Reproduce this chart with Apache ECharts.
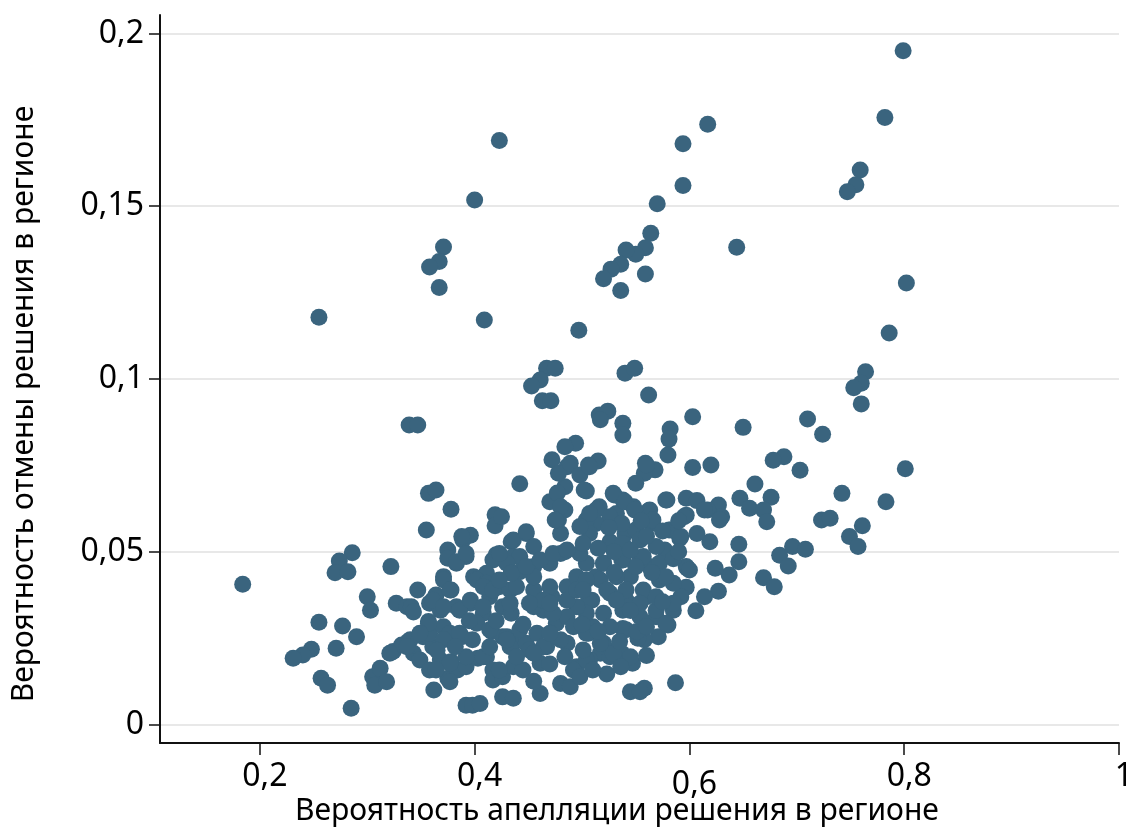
<!DOCTYPE html>
<html>
<head>
<meta charset="utf-8">
<script src="https://cdn.jsdelivr.net/npm/echarts@6/dist/echarts.min.js"></script>
<style>html,body{margin:0;padding:0;background:#fff}#c{width:1126px;height:827px}</style>
</head>
<body>
<div id="c"></div>
<script>
// Вероятность апелляции решения в регионе (x)
const appealRate = [
0.799,0.782,0.759,0.755,0.747,0.802,0.786,0.764,0.760,0.753,0.760,0.801,0.783,0.742,
0.617,0.594,0.594,0.570,0.564,0.559,0.550,0.541,0.536,0.527,0.520,0.559,0.644,0.536,0.497,0.540,0.549,0.562,
0.423,0.400,0.371,0.367,0.358,0.367,0.255,0.409,0.467,0.475,0.461,0.453,0.463,0.471,0.339,0.347,
0.516,0.524,0.538,0.538,0.603,0.582,0.581,0.580,0.650,0.710,0.724,0.703,0.688,0.678,0.603,0.620,
0.494,0.484,0.515,0.506,0.559,0.568,0.558,0.550,0.504,0.484,0.486,0.530,0.538,0.516,0.579,0.597,
0.607,0.627,0.617,0.647,0.661,0.676,0.656,0.669,0.562,0.597,0.630,0.723,0.731,0.761,0.484,0.672,
0.749,0.757,0.646,0.646,0.696,0.708,0.684,0.692,0.669,0.679,0.637,0.624,0.627,0.614,0.598,0.597,
0.606,0.587,0.558,0.545,0.554,0.523,0.547,0.580,0.571,0.558,0.552,0.541,0.520,0.531,0.517,0.569,
0.585,0.592,0.581,0.614,0.619,0.628,0.607,0.591,0.565,0.577,0.572,0.563,0.554,0.545,0.538,0.540,
0.526,0.520,0.513,0.526,0.541,0.560,0.509,0.510,0.520,0.526,0.537,0.538,0.551,0.507,0.532,0.513,0.548,
0.184,0.286,0.274,0.270,0.282,0.322,0.300,0.303,0.327,0.337,0.255,0.277,0.290,0.271,0.248,0.240,
0.231,0.257,0.263,0.285,0.305,0.312,0.307,0.318,0.324,0.332,0.338,
0.472,0.478,0.442,0.357,0.364,0.378,0.419,0.470,0.477,0.355,0.419,0.375,0.389,0.396,0.375,0.392,
0.383,0.371,0.399,0.420,0.417,0.434,0.436,0.411,
0.517,0.489,0.498,0.507,0.502,0.478,0.480,0.484,0.560,0.578,0.595,0.583,0.592,0.597,0.563,0.566,
0.529,0.540,0.549,0.526,0.550,0.537,0.513,0.504,0.507,0.526,0.538,0.554,0.569,0.557,0.572,0.550,
0.537,0.520,0.504,0.498,0.480,0.470,0.448,0.436,0.455,0.442,0.430,0.455,0.425,
0.341,0.347,0.343,0.358,0.364,0.371,0.378,0.368,0.357,0.352,0.340,0.343,0.349,0.361,0.358,0.371,
0.383,0.388,0.377,0.396,0.402,0.411,0.414,0.408,0.402,0.416,0.426,0.436,0.426,0.434,0.423,0.433,
0.358,0.362,0.368,0.378,0.375,0.384,0.392,0.403,0.411,0.417,0.417,0.426,0.436,0.392,0.398,0.405,
0.426,0.436,0.321,
0.600,0.585,0.578,0.506,0.504,0.506,0.529,0.545,0.495,0.480,0.489,0.461,0.461,0.445,0.464,0.476,
0.486,0.467,0.448,0.433,0.430,0.442,0.458,0.472,0.486,0.455,0.439,0.433,0.455,0.495,0.517,0.532,
0.557,0.569,0.554,0.538,0.495,0.486,0.470,0.442,
// core of the cloud
0.388,0.383,0.392,0.377,0.361,0.371,0.357,0.386,0.396,0.423,0.448,0.434,0.448,0.461,0.473,0.486,
0.501,0.476,0.480,0.507,0.498,0.408,0.417,0.423,0.408,0.414,0.430,0.455,0.464,0.473,0.486,0.495,
0.504,0.492,0.504,0.480,0.464,0.451,0.439,0.423,0.408,0.392,0.377,0.364,0.337,0.349,0.371,0.386,
0.398,0.414,0.377,0.492,0.504,
0.451,0.470,0.501,0.523,0.541,0.532,0.526,0.517,0.501,0.484,0.470,0.455,0.498,0.510,0.536,0.560,
0.554,0.569,0.585,0.578,0.475,
0.530,0.545,0.560,0.575,0.590,0.585,0.565,0.530,0.515,0.525,0.555,0.590,
0.365,0.382,0.395,0.420,0.445,0.470,0.455,0.515,0.535,0.560,0.500,0.545,0.575
];
// Вероятность отмены решения в регионе (y)
const reversalRate = [
0.1950,0.1757,0.1605,0.1562,0.1542,0.1278,0.1133,0.1021,0.0988,0.0975,0.0928,0.0740,0.0645,0.0669,
0.1737,0.1681,0.1560,0.1507,0.1422,0.1380,0.1361,0.1373,0.1332,0.1318,0.1290,0.1304,0.1381,0.1256,0.1141,0.1017,0.1031,0.0954,
0.1690,0.1518,0.1382,0.1340,0.1324,0.1265,0.1179,0.1171,0.1031,0.1031,0.0997,0.0980,0.0937,0.0937,0.0867,0.0867,
0.0896,0.0907,0.0872,0.0838,0.0891,0.0855,0.0826,0.0780,0.0860,0.0884,0.0840,0.0736,0.0775,0.0765,0.0744,0.0751,
0.0814,0.0804,0.0763,0.0751,0.0756,0.0737,0.0727,0.0698,0.0676,0.0688,0.0746,0.0664,0.0650,0.0630,0.0650,0.0655,
0.0648,0.0635,0.0621,0.0655,0.0696,0.0658,0.0626,0.0621,0.0619,0.0606,0.0601,0.0592,0.0597,0.0575,0.0621,0.0587,
0.0544,0.0515,0.0522,0.0471,0.0515,0.0507,0.0490,0.0459,0.0425,0.0399,0.0433,0.0452,0.0386,0.0370,0.0452,0.0397,
0.0329,0.0121,0.0105,0.0095,0.0095,0.0146,0.0177,0.0288,0.0254,0.0245,0.0250,0.0274,0.0322,0.0211,0.0206,0.0312,
0.0331,0.0370,0.0563,0.0621,0.0529,0.0592,0.0553,0.0539,0.0582,0.0505,0.0418,0.0457,0.0481,0.0428,0.0476,0.0553,
0.0529,0.0467,0.0428,0.0380,0.0360,0.0370,0.0360,0.0283,0.0235,0.0196,0.0206,0.0278,0.0269,0.0187,0.0611,0.0621,0.0630,
0.0406,0.0497,0.0473,0.0439,0.0442,0.0457,0.0370,0.0331,0.0351,0.0341,0.0296,0.0285,0.0254,0.0221,0.0218,0.0201,
0.0192,0.0134,0.0114,0.0047,0.0138,0.0163,0.0114,0.0124,0.0211,0.0230,0.0240,
0.0766,0.0727,0.0697,0.0669,0.0679,0.0623,0.0607,0.0645,0.0670,0.0563,0.0575,0.0505,0.0534,0.0548,0.0481,0.0486,
0.0467,0.0428,0.0428,0.0491,0.0476,0.0529,0.0486,0.0438,
0.0882,0.0756,0.0722,0.0746,0.0679,0.0592,0.0553,0.0500,0.0751,0.0650,0.0601,0.0563,0.0544,0.0457,0.0621,0.0592,
0.0669,0.0645,0.0621,0.0601,0.0563,0.0582,0.0582,0.0592,0.0553,0.0524,0.0524,0.0534,0.0515,0.0486,0.0467,0.0457,
0.0476,0.0467,0.0467,0.0495,0.0495,0.0467,0.0553,0.0534,0.0515,0.0486,0.0467,0.0457,0.0601,
0.0341,0.0389,0.0326,0.0351,0.0375,0.0418,0.0389,0.0331,0.0298,0.0254,0.0245,0.0206,0.0187,0.0225,0.0264,0.0283,
0.0341,0.0254,0.0264,0.0351,0.0418,0.0409,0.0370,0.0322,0.0293,0.0269,0.0254,0.0235,0.0341,0.0322,0.0399,0.0389,
0.0158,0.0100,0.0187,0.0182,0.0134,0.0158,0.0167,0.0192,0.0196,0.0158,0.0129,0.0138,0.0167,0.0056,0.0056,0.0061,
0.0080,0.0076,0.0206,
0.0447,0.0351,0.0293,0.0360,0.0322,0.0264,0.0206,0.0196,0.0167,0.0119,0.0109,0.0090,0.0177,0.0158,0.0331,0.0293,
0.0235,0.0225,0.0235,0.0225,0.0254,0.0274,0.0264,0.0370,0.0399,0.0389,0.0399,0.0351,0.0428,0.0428,0.0418,0.0428,
0.0389,0.0331,0.0312,0.0331,0.0341,0.0312,0.0399,0.0442,
// core of the cloud
0.0544,0.0471,0.0495,0.0389,0.0360,0.0341,0.0293,0.0331,0.0360,0.0495,0.0558,0.0438,0.0457,0.0476,0.0495,0.0505,
0.0524,0.0592,0.0630,0.0611,0.0573,0.0399,0.0389,0.0418,0.0341,0.0274,0.0245,0.0341,0.0360,0.0322,0.0360,0.0389,
0.0418,0.0283,0.0264,0.0245,0.0225,0.0216,0.0196,0.0158,0.0196,0.0196,0.0177,0.0158,0.0225,0.0264,0.0245,0.0264,
0.0245,0.0225,0.0124,0.0158,0.0187,
0.0351,0.0351,0.0389,0.0389,0.0389,0.0360,0.0283,0.0235,0.0216,0.0196,0.0264,0.0206,0.0138,0.0158,0.0167,0.0283,
0.0351,0.0370,0.0409,0.0428,0.0592,
0.0500,0.0505,0.0545,0.0560,0.0590,0.0480,0.0440,0.0440,0.0510,0.0570,0.0590,0.0500,
0.0215,0.0225,0.0300,0.0300,0.0290,0.0175,0.0125,0.0270,0.0240,0.0200,0.0290,0.0330,0.0355
];
const xTicks = [0.2, 0.4, 0.6, 0.8, 1];
const yTicks = [0, 0.05, 0.1, 0.15, 0.2];
const xTitle = 'Вероятность апелляции решения в регионе';
const yTitle = 'Вероятность отмены решения в регионе';

const points = appealRate.map((x, i) => [x, reversalRate[i]]);
const fmt = v => String(+v.toFixed(4)).replace('.', ',');
const FONT = '"Noto Sans", sans-serif';
const TICK_FS = 32;

const chart = echarts.init(document.getElementById('c'), null, {renderer: 'canvas'});
chart.setOption({
  animation: false,
  backgroundColor: '#fff',
  grid: {left: 160, right: 7, top: 15, bottom: 84, containLabel: false, outerBoundsMode: 'none'},
  xAxis: {
    type: 'value', min: 0.107, max: 1.0,
    axisLine: {show: true, onZero: false, lineStyle: {color: '#111', width: 2}},
    axisTick: {show: true, length: 12, customValues: xTicks, lineStyle: {color: '#111', width: 1.5}},
    axisLabel: {
      customValues: xTicks, color: '#000', fontSize: TICK_FS, fontFamily: FONT, margin: 18,
      padding: [0, 0, 0, 10],
      formatter: v => (Math.abs(v - 0.6) < 1e-9 ? '{lo|' + fmt(v) + '}' : fmt(v)),
      rich: {lo: {fontSize: TICK_FS, fontFamily: FONT, color: '#000', padding: [8, 0, 0, 0]}}
    },
    splitLine: {show: false}
  },
  yAxis: {
    type: 'value', min: -0.00535, max: 0.20535,
    axisLine: {show: true, onZero: false, lineStyle: {color: '#111', width: 2}},
    axisTick: {show: true, length: 11, customValues: yTicks, lineStyle: {color: '#111', width: 1.5}},
    axisLabel: {customValues: yTicks, formatter: fmt, color: '#000', fontSize: TICK_FS, fontFamily: FONT, margin: 16},
    splitLine: {show: true, lineStyle: {color: '#e8e8e8', width: 2}}
  },
  graphic: [
    {type: 'text', left: 295, bottom: 1, style: {text: xTitle, fontSize: 30, fontFamily: FONT, fill: '#000'}},
    {type: 'text', rotation: Math.PI / 2, x: 9, y: 404, style: {text: yTitle, fontSize: 30, fontFamily: FONT, fill: '#000', align: 'center', verticalAlign: 'top'}}
  ],
  series: [{
    type: 'scatter',
    data: points,
    symbol: 'circle',
    symbolSize: 17,
    itemStyle: {color: '#3a647e', opacity: 1},
    emphasis: {disabled: true}
  }]
});
</script>
</body>
</html>
